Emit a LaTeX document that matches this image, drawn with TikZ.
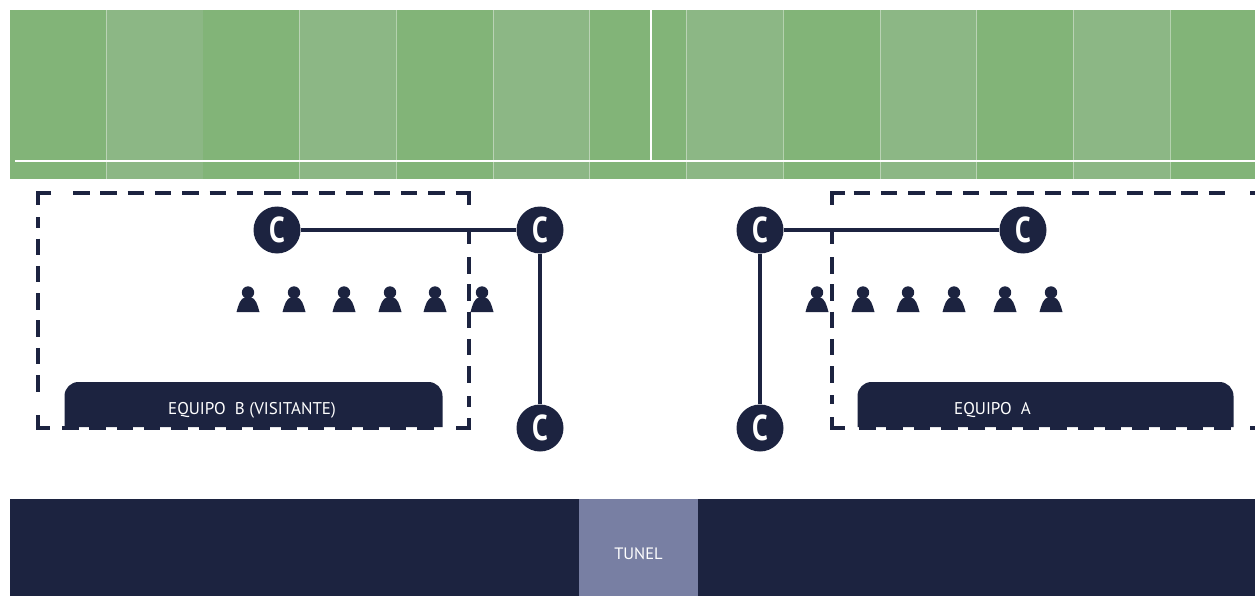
\documentclass[tikz,border=0pt]{standalone}
\usepackage{fontspec}
\setmainfont{PT Sans}
\usetikzlibrary{positioning}
\definecolor{navy}{HTML}{1C2340}
\definecolor{tunelblue}{HTML}{787FA3}
\definecolor{grassdark}{HTML}{82B478}
\definecolor{grasslight}{HTML}{8CB785}
\tikzset{
  coach/.style={circle,fill=navy,text=white,minimum size=47pt,inner sep=0pt,font=\fontsize{36}{36}\selectfont\bfseries},
  benchlabel/.style={text=white,inner sep=0pt,font=\fontsize{17}{17}\selectfont},
  area/.style={navy,line width=3.2pt},
  areadash/.style={area,dash pattern=on 16.5pt off 10.83pt},
  link/.style={navy,line width=3.6pt},
  player/.pic={
    \fill[navy] (0,-6.5) circle (6.2);
    \fill[navy] (-11.5,13) .. controls (-9.5,6) and (-8,-1) .. (-2,-2) -- (2,-2)
      .. controls (8,-1) and (9.5,6) .. (11.5,13) -- cycle;
  }
}
\begin{document}
\begin{tikzpicture}[x=1pt,y=-1pt]
  \useasboundingbox (0,0) rectangle (1255,596);
  % pitch
  \fill[grassdark] (10,10) rectangle (1255,179);
  \foreach \x in {106,299,493,686,880,1073}
    \fill[grasslight] (\x,10) rectangle (\x+96.5,179);
  \foreach \x in {106,299,396,493,589,686,783,880,976,1073,1170}
    \draw[white,opacity=.4,line width=1pt] (\x,10) -- (\x,179);
  \draw[white,line width=1.5pt] (15,161) -- (1255,161);
  \draw[white,line width=1.5pt] (651,10) -- (651,161);
  % tunnel wall
  \fill[navy] (10,499) rectangle (1255,596);
  \fill[tunelblue] (579,499) rectangle (698,596);
  \node[benchlabel,font=\fontsize{16.5}{16.5}\selectfont] (tunel) at (638.5,554) {TUNEL};
  % benches
  \fill[navy] (64.5,427) [rounded corners=14pt] -- (64.5,382) -- (442.5,382) [sharp corners] -- (442.5,427) -- cycle;
  \fill[navy] (857.5,427) [rounded corners=14pt] -- (857.5,382) -- (1233.5,382) [sharp corners] -- (1233.5,427) -- cycle;
  \node[benchlabel] (equipob) at (252,410) {EQUIPO\ \ B (VISITANTE)};
  \node[benchlabel] (equipoa) at (992.5,410) {EQUIPO\ \ A};
  % technical area B
  \draw[area] (51,193) -- (38,193) -- (38,205);
  \draw[area] (457,193) -- (469,193) -- (469,205);
  \draw[area] (38,415) -- (38,428) -- (50,428);
  \draw[area] (456,428) -- (469,428) -- (469,418);
  \draw[areadash] (73,193) -- (457,193);
  \draw[areadash] (62,428) -- (442,428);
  \draw[area] (38,217) -- (38,228);
  \draw[areadash] (38,238.5) -- (38,394);
  \draw[area] (469,230) -- (469,244);
  \draw[areadash] (469,257) -- (469,383);
  \draw[area] (469,396) -- (469,407);
  % technical area A
  \draw[area] (845,193) -- (832,193) -- (832,205);
  \draw[area] (832,417) -- (832,428) -- (845,428);
  \draw[areadash] (853.5,193) -- (1227,193);
  \draw[area] (1250,193) -- (1255,193);
  \draw[areadash] (859,428) -- (1238,428);
  \draw[area] (1250,428) -- (1255,428);
  \draw[area] (832,230) -- (832,244);
  \draw[areadash] (832,257) -- (832,383);
  \draw[area] (832,395) -- (832,404);
  % players
  \foreach \x in {248,294,344,390,435,482,817,863,908,954,1005,1051}
    \pic at (\x,299) {player};
  % coaches
  \node[coach] (coachb) at (277,230) {\scalebox{.78}[1]{C}};
  \node[coach] (coachbtop) at (540,230) {\scalebox{.78}[1]{C}};
  \node[coach] (coachbbot) at (540,428) {\scalebox{.78}[1]{C}};
  \node[coach] (coachatop) at (760,230) {\scalebox{.78}[1]{C}};
  \node[coach] (coachabot) at (760,428) {\scalebox{.78}[1]{C}};
  \node[coach] (coacha) at (1023,230) {\scalebox{.78}[1]{C}};
  \draw[link] (coachb) -- (coachbtop);
  \draw[link] (coachbtop) -- (coachbbot);
  \draw[link] (coachatop) -- (coacha);
  \draw[link] (coachatop) -- (coachabot);
\end{tikzpicture}
\end{document}
